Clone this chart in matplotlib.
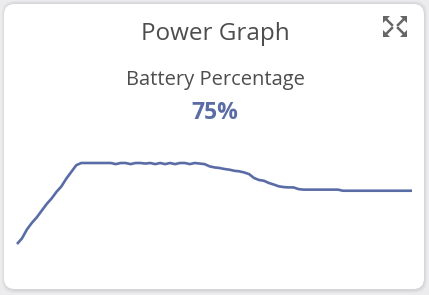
import matplotlib
matplotlib.use("Agg")
import matplotlib.pyplot as plt
from matplotlib.patches import FancyBboxPatch, Polygon
from matplotlib.lines import Line2D

W, H = 429, 295

# ---- data ----
title = "Power Graph"
subtitle = "Battery Percentage"
current_value = "75%"
battery = [27, 32, 40, 46, 51, 57, 63, 68, 74, 79, 86, 92, 98, 100,
           100, 100, 100, 100, 100, 100, 99, 100, 100, 99, 100, 100, 99.5,
           100, 99, 100, 99, 100, 99, 100, 100, 99, 100, 99.5, 99,
           97, 96, 95.5, 94.6, 94, 93, 92.5, 91.5, 90, 86.5, 84.7, 84, 82,
           80.6, 79, 78.3, 78, 78, 76.5, 76, 76, 76, 76, 76, 76, 76, 76,
           75, 75, 75, 75, 75, 75, 75, 75, 75, 75, 75, 75, 75, 75, 75]
minutes = list(range(len(battery)))

line_color = "#5a6ca6"
text_color = "#4d4d4d"

fig = plt.figure(figsize=(W / 100, H / 100), dpi=100)
fig.patch.set_facecolor("#ececee")

def fx(px):
    return px / W

def fy(py):
    return 1 - py / H

# shadow layers
for i, (pad, c) in enumerate([(3, "#e4e4e6"), (2, "#dedee0"), (1, "#d6d6d8")]):
    fig.add_artist(FancyBboxPatch((fx(4 - pad + 1), fy(290 + pad)),
                                  fx(421 + 2 * pad - 2), (287 + 2 * pad - 1) / H,
                                  boxstyle="round,pad=0,rounding_size=0.03",
                                  transform=fig.transFigure, facecolor=c,
                                  edgecolor="none", zorder=0.5 + i * 0.1,
                                  mutation_aspect=W / H))
fig.add_artist(FancyBboxPatch((fx(4), fy(289)), fx(420), 285 / H,
                              boxstyle="round,pad=0,rounding_size=0.025",
                              transform=fig.transFigure, facecolor="white",
                              edgecolor="none", zorder=1, mutation_aspect=W / H))

# texts
fig.text(fx(215), fy(34), title, ha="center", va="center", fontsize=17.5,
         color=text_color, family="Open Sans", zorder=3)
fig.text(fx(215), fy(80), subtitle, ha="center", va="center", fontsize=14.5,
         color=text_color, family="Open Sans", zorder=3)
fig.text(fx(215), fy(113), current_value, ha="center", va="center", fontsize=16.5,
         color=line_color, family="Open Sans", fontweight="bold", zorder=3)

# expand icon
ic = "#666666"
corners = [((383, 16), (1, 1)), ((407, 16), (-1, 1)),
           ((383, 37), (1, -1)), ((407, 37), (-1, -1))]
for (cx, cy), (sx, sy) in corners:
    tri = [(cx, cy), (cx + sx * 7, cy), (cx, cy + sy * 7)]
    fig.add_artist(Polygon([(fx(a), fy(b)) for a, b in tri], closed=True,
                           transform=fig.transFigure, facecolor=ic,
                           edgecolor="none", zorder=3))
    fig.add_artist(Line2D([fx(cx + sx * 3), fx(cx + sx * 9)],
                          [fy(cy + sy * 3), fy(cy + sy * 9)],
                          transform=fig.transFigure, color=ic, lw=1.8,
                          zorder=3))

# chart
ax = fig.add_axes([fx(17), fy(244), fx(412 - 17), (244 - 163) / H], zorder=2)
ax.plot(minutes, battery, color=line_color, lw=1.9, clip_on=False,
        solid_joinstyle="round", solid_capstyle="butt")
ax.set_xlim(0, len(battery) - 1)
ax.set_ylim(27, 100)
ax.axis("off")
ax.patch.set_alpha(0)

fig.savefig("out.png", dpi=100, facecolor=fig.get_facecolor())
